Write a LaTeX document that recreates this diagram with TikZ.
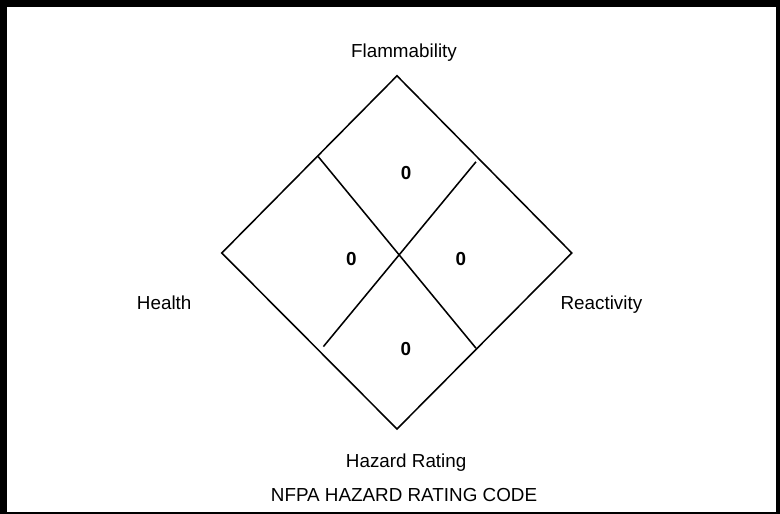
\documentclass[tikz,border=0pt]{standalone}
\usepackage{fontspec}
\setmainfont{Liberation Sans}
\tikzset{
  lbl/.style={anchor=base,inner sep=0pt,font=\fontsize{13.4}{16}\selectfont},
  num/.style={lbl,font=\fontsize{13.4}{16}\selectfont\bfseries},
  edge/.style={line width=1.1pt}
}
\begin{document}
\begin{tikzpicture}[]

		\fill[black] (-9.925,-6.525) rectangle (9.575,6.325);
		\fill[white] (-9.75,-6.47) rectangle (9.475,6.15);

		\coordinate (top) at (0,4.43);
		\coordinate (lft) at (-4.38,0);
		\coordinate (rgt) at (4.37,0);
		\coordinate (bot) at (0,-4.4);
		\draw[edge] (top) -- (rgt) -- (bot) -- (lft) -- cycle;

		\coordinate (a1) at (-1.97,2.41);
		\coordinate (a2) at (1.975,-2.38);
		\coordinate (b1) at (1.975,2.28);
		\coordinate (b2) at (-1.84,-2.34);
		\draw[edge] (a1) -- (a2);
		\draw[edge] (b1) -- (b2);

		\node[num] (f) at (0.225,1.825) {0};
		\node[num] (h) at (-1.14,-0.32) {0};
		\node[num] (r) at (1.595,-0.32) {0};
		\node[num] (s) at (0.22,-2.57) {0};

		\node[lbl] (flam) at (0.175,4.89) {Flammability};
		\node[lbl] (heal) at (-5.82,-1.425) {Health};
		\node[lbl] (reac) at (5.11,-1.425) {Reactivity};
		\node[lbl] (haz) at (0.23,-5.37) {Hazard Rating};
		\node[lbl] (code) at (0.175,-6.22) {NFPA HAZARD RATING CODE};

\end{tikzpicture}
\end{document}
